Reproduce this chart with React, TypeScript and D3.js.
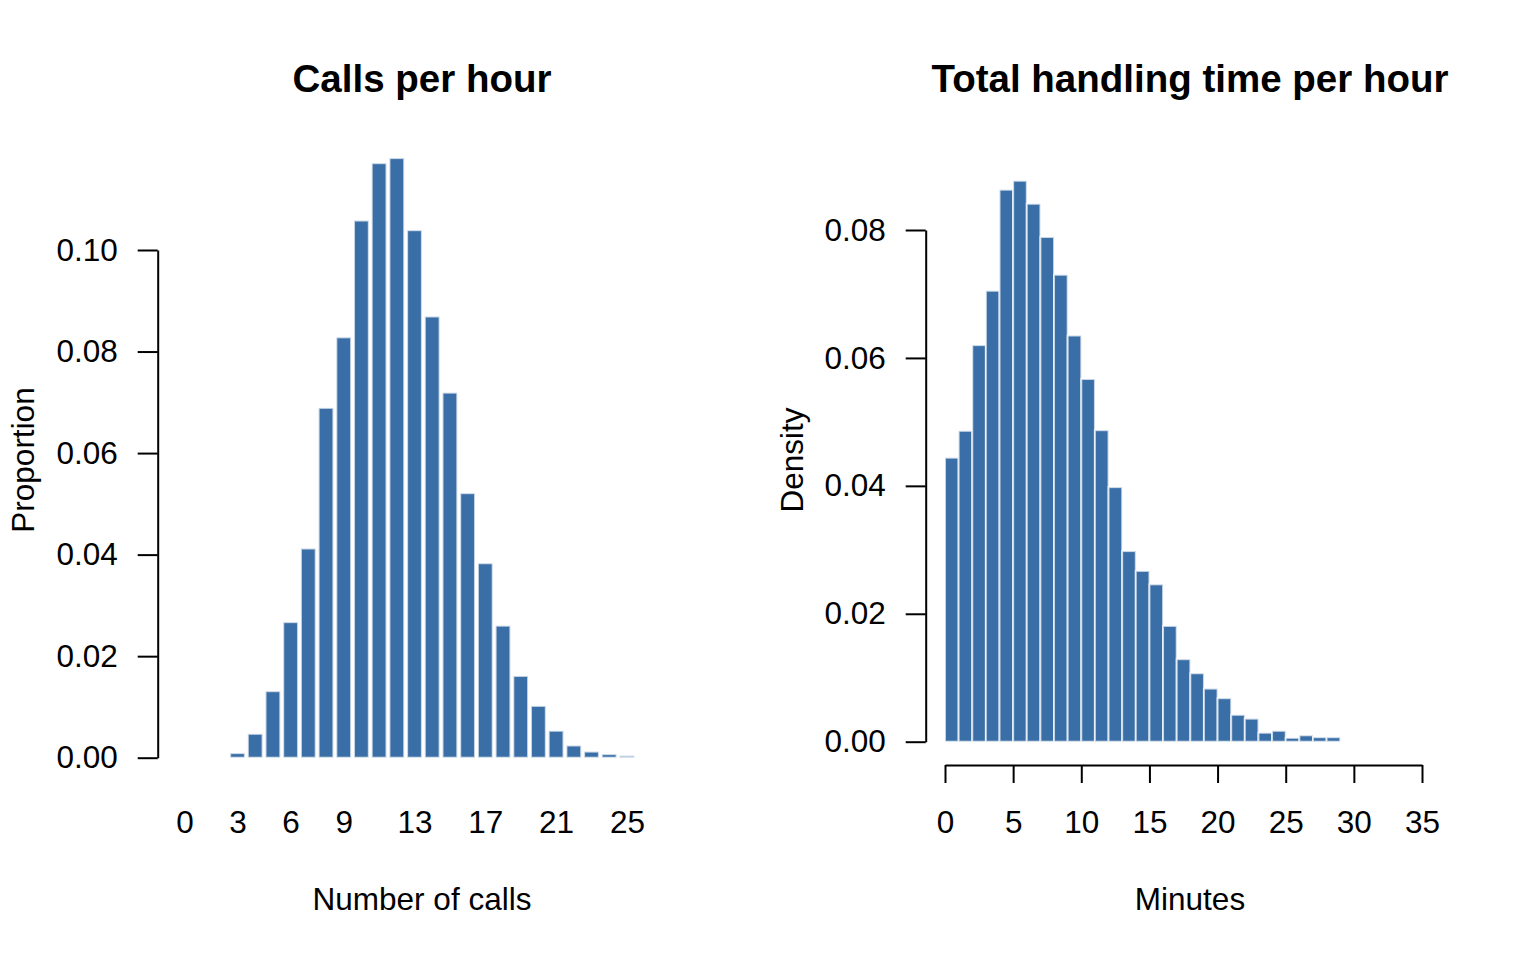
import React, { useEffect, useRef } from 'react';
import * as d3 from 'd3';

const WIDTH = 1536;
const HEIGHT = 960;
const BAR_FILL = '#3a6ea6';
const FONT = '"Liberation Sans", Arial, Helvetica, sans-serif';

// calls per hour: proportion of hours with 0..25 calls
const callCounts = d3.range(0, 26);
const callProportions = [
  0, 0, 0, 0.0009, 0.0047, 0.0131, 0.0267, 0.0412, 0.0689, 0.0828, 0.1058, 0.1171, 0.1181,
  0.1039, 0.0869, 0.0719, 0.0521, 0.0383, 0.026, 0.0161, 0.0102, 0.0053, 0.0024, 0.0012,
  0.0007, 0.0004
];
const callLabels = [0, 3, 6, 9, 13, 17, 21, 25];
const callTicks = [0, 0.02, 0.04, 0.06, 0.08, 0.1];

// handling time per hour: density in 1-minute bins starting at 0
const minuteBinStarts = d3.range(0, 29);
const minuteDensity = [
  0.0444, 0.0486, 0.062, 0.0705, 0.0863, 0.0877, 0.0841, 0.0789, 0.073, 0.0635, 0.0567,
  0.0487, 0.0398, 0.0298, 0.0267, 0.0246, 0.0181, 0.0129, 0.0107, 0.0083, 0.0068, 0.0042,
  0.0036, 0.0014, 0.0017, 0.0006, 0.001, 0.0007, 0.0007
];
const minuteTicks = [0, 5, 10, 15, 20, 25, 30, 35];
const densityTicks = [0, 0.02, 0.04, 0.06, 0.08];

const LABEL_SIZE = 31.5;
const TITLE_SIZE = 38.5;

const styleAxis = (g: d3.Selection<SVGGElement, unknown, null, undefined>) => {
  g.selectAll('path, line').attr('stroke', '#000').attr('stroke-width', 2);
  g.selectAll('text').attr('fill', '#000').style('font-family', FONT).style('font-size', `${LABEL_SIZE}px`);
};

export default function App() {
  const svgRef = useRef<SVGSVGElement>(null);

  useEffect(() => {
    if (!svgRef.current) return;
    const svg = d3.select(svgRef.current);
    svg.selectAll('*').remove();

    // ---- left panel: barplot ----
    const xCall = d3.scaleLinear().domain([0, 25]).range([184.4, 626.9]);
    const yCall = d3.scaleLinear().domain([0, 0.1]).range([757.7, 250]);
    const barW = (xCall(1) - xCall(0)) / 1.2;

    svg.append('g')
      .selectAll('rect')
      .data(callCounts)
      .join('rect')
      .attr('x', d => xCall(d) - barW / 2)
      .attr('width', barW)
      .attr('y', (d, i) => yCall(callProportions[i]))
      .attr('height', (d, i) => yCall(0) - yCall(callProportions[i]))
      .attr('fill', BAR_FILL)
      .attr('stroke', '#fff')
      .attr('stroke-width', 2)
      .attr('stroke-opacity', 0.7);

    svg.append('g')
      .attr('transform', 'translate(157.7,0)')
      .call(d3.axisLeft(yCall).tickValues(callTicks).tickFormat(d3.format('.2f')).tickSize(20).tickSizeOuter(0).tickPadding(20))
      .call(styleAxis);

    const callX = svg.append('g')
      .attr('transform', 'translate(0,765)')
      .call(d3.axisBottom(xCall).tickValues(callLabels).tickFormat(d3.format('d')).tickSize(0).tickPadding(46))
      .call(styleAxis);
    callX.select('.domain').remove();

    // ---- right panel: histogram ----
    const xMin = d3.scaleLinear().domain([0, 35]).range([945, 1422]);
    const yDen = d3.scaleLinear().domain([0, 0.08]).range([741.7, 230]);

    svg.append('g')
      .selectAll('rect')
      .data(minuteBinStarts)
      .join('rect')
      .attr('x', d => xMin(d))
      .attr('width', d => xMin(d + 1) - xMin(d))
      .attr('y', (d, i) => yDen(minuteDensity[i]))
      .attr('height', (d, i) => yDen(0) - yDen(minuteDensity[i]))
      .attr('fill', BAR_FILL)
      .attr('stroke', '#fff')
      .attr('stroke-width', 2)
      .attr('stroke-opacity', 0.7);

    svg.append('g')
      .attr('transform', 'translate(925.7,0)')
      .call(d3.axisLeft(yDen).tickValues(densityTicks).tickFormat(d3.format('.2f')).tickSize(20).tickSizeOuter(0).tickPadding(20))
      .call(styleAxis);

    svg.append('g')
      .attr('transform', 'translate(0,765)')
      .call(d3.axisBottom(xMin).tickValues(minuteTicks).tickFormat(d3.format('d')).tickSize(18).tickSizeOuter(0).tickPadding(28))
      .call(styleAxis);

    // ---- titles and axis labels ----
    const addText = (x: number, y: number, txt: string, size: number, bold = false, rotate = false) => {
      const t = svg.append('text')
        .attr('text-anchor', 'middle')
        .style('font-family', FONT)
        .style('font-size', `${size}px`)
        .style('font-weight', bold ? 'bold' : 'normal')
        .attr('fill', '#000')
        .text(txt);
      if (rotate) t.attr('transform', `translate(${x},${y}) rotate(-90)`);
      else t.attr('x', x).attr('y', y);
    };

    addText(422, 92, 'Calls per hour', TITLE_SIZE, true);
    addText(1190, 92, 'Total handling time per hour', TITLE_SIZE, true);
    addText(422, 910, 'Number of calls', LABEL_SIZE);
    addText(1190, 910, 'Minutes', LABEL_SIZE);
    addText(34, 460, 'Proportion', LABEL_SIZE, false, true);
    addText(803, 460, 'Density', LABEL_SIZE, false, true);
  }, []);

  return (
    <svg
      ref={svgRef}
      width={WIDTH}
      height={HEIGHT}
      style={{ position: 'absolute', left: 0, top: 0, background: '#fff' }}
    />
  );
}
